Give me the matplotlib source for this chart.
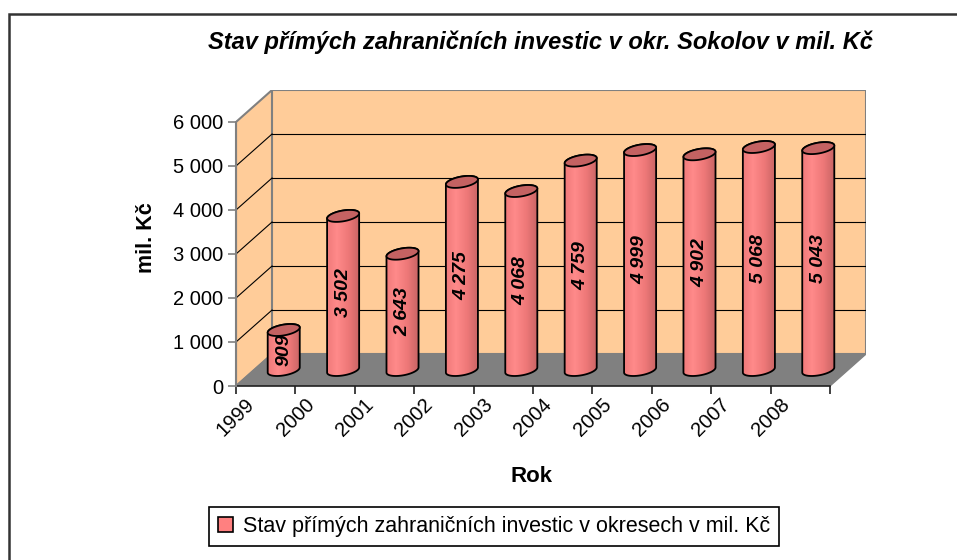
import numpy as np
import matplotlib
matplotlib.use("Agg")
import matplotlib.pyplot as plt
from matplotlib.patches import Polygon, Rectangle, Patch
from matplotlib.colors import LinearSegmentedColormap
from matplotlib.transforms import ScaledTranslation

plt.rcParams['font.family'] = ['Liberation Sans', 'DejaVu Sans']

years = ['1999', '2000', '2001', '2002', '2003', '2004', '2005', '2006', '2007', '2008']
values = [909, 3502, 2643, 4275, 4068, 4759, 4999, 4902, 5068, 5043]
y_ticks = [0, 1000, 2000, 3000, 4000, 5000, 6000]
title = 'Stav přímých zahraničních investic v okr. Sokolov v mil. Kč'
series_name = 'Stav přímých zahraničních investic v okresech v mil. Kč'


def fmt(v):
    return f'{v:,}'.replace(',', ' ')


W, H = 957, 560
fig = plt.figure(figsize=(W / 100, H / 100), dpi=100)
ax = fig.add_axes([236 / W, (H - 386) / H, (866 - 236) / W, (386 - 90) / H])

n = len(values)
ymax = y_ticks[-1]
# depth offset of the back wall (in data units)
dx = 0.607
dy = 727

wall = '#FFCC99'
edge = '#808080'
ax.add_patch(Polygon([(0, 0), (dx, dy), (dx, ymax + dy), (0, ymax)],
                     closed=True, fc=wall, ec=edge, lw=1.5, zorder=1))
ax.add_patch(Polygon([(dx, dy), (n + dx, dy), (n + dx, ymax + dy), (dx, ymax + dy)],
                     closed=True, fc=wall, ec=edge, lw=1.5, zorder=1))
for t in y_ticks[1:-1]:
    ax.plot([dx, n + dx], [t + dy, t + dy], color='black', lw=0.8, zorder=2)
    ax.plot([0, dx], [t, t + dy], color='black', lw=0.8, zorder=2)
ax.add_patch(Polygon([(0, 0), (n, 0), (n + dx, dy), (dx, dy)],
                     closed=True, fc='#808080', ec=edge, lw=1, zorder=2))

# cylinders
cmap = LinearSegmentedColormap.from_list('cyl', [(0, '#F07A7A'), (0.3, '#FF8A8A'),
                                                 (0.65, '#EE7878'), (1, '#C86464')])
grad = np.linspace(0, 1, 64).reshape(1, -1)
a, b, c = 0.244, 0.115, 136
t0 = np.arctan2(b, a)
R = np.hypot(a, b)
for i, v in enumerate(values):
    xc = i + 0.5 + dx / 2
    yb = dy / 2
    yt = yb + v
    tf = np.linspace(t0 + np.pi, t0 + 2 * np.pi, 40)
    tb = np.linspace(t0, t0 + np.pi, 40)
    bot = np.column_stack([xc + a * np.cos(tf) + b * np.sin(tf), yb + c * np.sin(tf)])
    top = np.column_stack([xc + a * np.cos(tb) + b * np.sin(tb), yt + c * np.sin(tb)])
    body = Polygon(np.vstack([bot, top]), closed=True, fc='none', ec='black', lw=1.3, zorder=5)
    ax.add_patch(body)
    im = ax.imshow(grad, cmap=cmap, aspect='auto', extent=[xc - R, xc + R, yb - c, yt + c],
                   zorder=4, interpolation='bilinear')
    im.set_clip_path(body)
    ts = np.linspace(0, 2 * np.pi, 80)
    cap = np.column_stack([xc + a * np.cos(ts) + b * np.sin(ts), yt + c * np.sin(ts)])
    ax.add_patch(Polygon(cap, closed=True, fc='#C46262', ec='black', lw=1.3, zorder=6))
    ax.text(xc, yb + v / 2, fmt(v), rotation=90, ha='center', va='center',
            fontsize=14, fontstyle='italic', fontweight='bold', zorder=7)

ax.set_xlim(0, n + dx)
ax.set_ylim(0, ymax + dy)

for s in ['top', 'right']:
    ax.spines[s].set_visible(False)
ax.spines['left'].set_bounds(0, ymax)
ax.spines['left'].set_color(edge)
ax.spines['left'].set_linewidth(1.5)
ax.spines['left'].set_zorder(3)
ax.spines['bottom'].set_bounds(0, n)
ax.spines['bottom'].set_color('#202020')
ax.spines['bottom'].set_linewidth(1.2)

ax.set_yticks(y_ticks)
ax.set_yticklabels([fmt(t) for t in y_ticks], fontsize=14.5)
ax.tick_params(axis='y', direction='out', length=6, width=1.2, color=edge, pad=3)
ax.set_xticks(range(n + 1))
ax.set_xticklabels([])
ax.tick_params(axis='x', direction='out', length=6, width=1.2, color='#202020')

off = ScaledTranslation(9 / 100, -9 / 100, fig.dpi_scale_trans)
for i, yr in enumerate(years):
    ax.text(i, 0, yr, rotation=45, ha='right', va='top', rotation_mode='anchor',
            fontsize=14.5, transform=ax.transData + off)

ax.set_ylabel('mil. Kč', fontsize=15.5, fontweight='bold', labelpad=12)
fig.text(532 / W, 1 - 476 / H, 'Rok', ha='center', va='center', fontsize=16, fontweight='bold')
fig.text(540 / W, 1 - 42 / H, title, ha='center', va='center', fontsize=17,
         fontstyle='italic', fontweight='bold')

leg = fig.legend(handles=[Patch(facecolor='#FF8080', edgecolor='black', lw=1.2)],
                 labels=[series_name], loc='center', bbox_to_anchor=(494 / W, 1 - 526.5 / H),
                 fontsize=15.5, fancybox=False, edgecolor='black', framealpha=1,
                 handlelength=0.7, handleheight=0.7, handletextpad=0.5, borderpad=0.4)
leg.get_frame().set_linewidth(1.2)

fig.add_artist(Rectangle((9 / W, -0.1), 1.2, 1.1 - 14 / H, transform=fig.transFigure,
                         fill=False, ec='#333333', lw=1.8))

fig.savefig('out.png', dpi=100)
